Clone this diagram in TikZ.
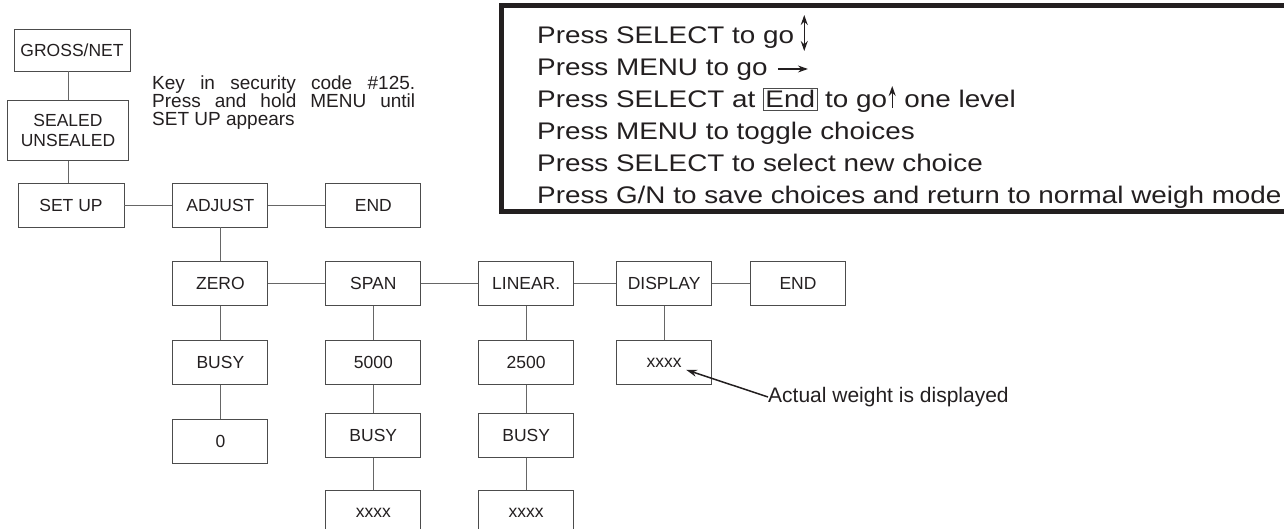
\documentclass[tikz,border=0pt]{standalone}
\usepackage{fontspec}
\setmainfont{Liberation Sans}
\newfontfamily\legendfont[FakeStretch=1.16]{Liberation Sans}
\usetikzlibrary{positioning,arrows.meta,calc}
\definecolor{ink}{HTML}{231F20}
\tikzset{
  >={Stealth[length=11pt,width=7pt]},
  menubox/.style={draw=black!70,line width=0.9pt,minimum width=95pt,
    minimum height=44pt,inner sep=1pt,text=ink,
    font=\fontsize{17.5}{20}\selectfont},
  link/.style={draw=black!60,line width=0.9pt},
  legendframe/.style={draw=ink,line width=5pt},
  legendtxt/.style={font=\legendfont\fontsize{24}{32}\selectfont,anchor=base west,
    inner sep=0pt,text=ink},
  keytxt/.style={font=\fontsize{19}{18}\selectfont,align=left,inner sep=0pt,
    text=ink},
  notetxt/.style={font=\fontsize{21}{24}\selectfont,inner sep=0pt,text=ink},
  dirarrow/.style={{Stealth[length=10pt,width=7pt]}-{Stealth[length=10pt,width=7pt]},
    line width=1.1pt,ink},
  goarrow/.style={-{Stealth[length=10pt,width=7pt]},line width=1.1pt,ink},
  notearrow/.style={->,line width=1.5pt,ink},
}
\begin{document}
\begin{tikzpicture}[x=1pt,y=-1pt]
  \useasboundingbox (0,0) rectangle (1284,529);
  \clip (0,0) rectangle (1284,529);
  % getting into set up
  \node[menubox,minimum width=116pt,minimum height=42pt] (gross) at (72,50) {GROSS/NET};
  \node[menubox,minimum width=121pt,minimum height=60pt,align=center] (sealed) at (68,130.5) {SEALED\\UNSEALED};
  \node[menubox,minimum width=106pt] (setup) at (71,205) {SET UP};
  \node[keytxt,anchor=north west] (keyin) at (152,76) {%
    \makebox[263pt][s]{Key in security code \#125.}\\
    \makebox[263pt][s]{Press and hold MENU until}\\
    SET UP appears};
  \draw[link] (sealed.north) -- (sealed.north |- gross.south);
  \draw[link] (sealed.south) -- (sealed.south |- setup.north);
  % menu tree
  \node[menubox,right=48pt of setup] (adjust) {ADJUST};
  \node[menubox,right=57pt of adjust] (endA) {END};
  \node[menubox,below=34pt of adjust] (zero) {ZERO};
  \node[menubox,right=57pt of zero] (span) {SPAN};
  \node[menubox,right=57pt of span] (linear) {LINEAR.};
  \node[menubox,right=42pt of linear] (display) {DISPLAY};
  \node[menubox,right=38pt of display] (endB) {END};
  \node[menubox,below=34pt of zero] (busyZ) {BUSY};
  \node[menubox,below=34pt of busyZ] (zeroval) {0};
  \node[menubox,below=34pt of span] (spanval) {5000};
  \node[menubox,below=28pt of spanval] (busyS) {BUSY};
  \node[menubox,below=32pt of busyS] (xxS) {xxxx};
  \node[menubox,below=34pt of linear] (linval) {2500};
  \node[menubox,below=28pt of linval] (busyL) {BUSY};
  \node[menubox,below=32pt of busyL] (xxL) {xxxx};
  \node[menubox,below=34pt of display] (xxD) {xxxx};
  \draw[link] (setup) -- (adjust) (adjust) -- (endA) (adjust) -- (zero)
    (zero) -- (span) (span) -- (linear) (linear) -- (display) (display) -- (endB)
    (zero) -- (busyZ) (busyZ) -- (zeroval)
    (span) -- (spanval) (spanval) -- (busyS) (busyS) -- (xxS)
    (linear) -- (linval) (linval) -- (busyL) (busyL) -- (xxL)
    (display) -- (xxD);
  \node[notetxt,anchor=west] (actual) at (768,397) {Actual weight is displayed};
  \coordinate (xxtip) at ($(xxD.center)+(22,7)$);
  \draw[notearrow] (actual.west) -- (xxtip);
  % key legend
  \draw[legendframe] (501,5.5) rectangle (1300,212);
  \node[legendtxt] (l1) at (537,44) {Press SELECT to go};
  \draw[dirarrow] ($(l1.base east)+(10,7)$) -- ($(l1.base east)+(10,-29)$);
  \node[legendtxt] (l2) at (537,76) {Press MENU to go};
  \draw[goarrow] ($(l2.base east)+(10,-7)$) -- ($(l2.base east)+(40,-7)$);
  \node[legendtxt] (l3) at (537,108) {Press SELECT at};
  \node[legendtxt,draw=black!70,line width=0.8pt,inner sep=2.5pt,base right=7pt of l3] (l3end) {End};
  \node[legendtxt,base right=7pt of l3end] (l3b) {to go};
  \draw[goarrow] ($(l3b.base east)+(5,0)$) -- ($(l3b.base east)+(5,-22)$);
  \node[legendtxt,base right=17pt of l3b] (l3c) {one level};
  \node[legendtxt] (l4) at (537,140) {Press MENU to toggle choices};
  \node[legendtxt] (l5) at (537,172) {Press SELECT to select new choice};
  \node[legendtxt] (l6) at (537,204) {Press G/N to save choices and return to normal weigh mode};
\end{tikzpicture}
\end{document}
